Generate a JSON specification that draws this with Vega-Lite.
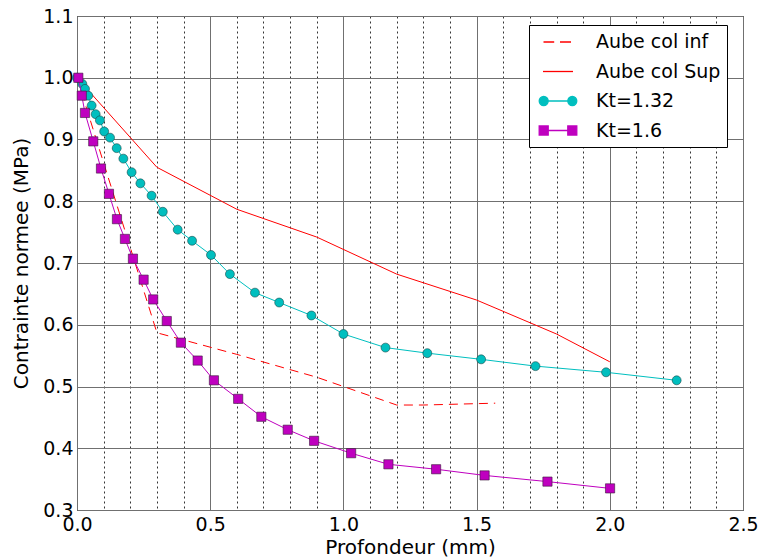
{
  "$schema": "https://vega.github.io/schema/vega-lite/v6.json",
  "width": 666,
  "height": 494,
  "autosize": "none",
  "padding": {"left": 77, "top": 16, "right": 20, "bottom": 50},
  "background": "white",
  "config": {
    "font": "DejaVu Sans",
    "view": {"stroke": "black", "strokeWidth": 1},
    "axis": {
      "domain": false,
      "ticks": false,
      "labelFont": "DejaVu Sans",
      "labelFontSize": 19,
      "labelColor": "black",
      "titleFont": "DejaVu Sans",
      "titleFontSize": 20,
      "titleFontWeight": "normal",
      "titleColor": "black",
      "gridOpacity": 1
    },
    "legend": {
      "orient": "none",
      "legendX": 452,
      "legendY": 9,
      "title": null,
      "padding": 6,
      "symbolOffset": 12,
      "symbolSize": 400,
      "symbolStrokeWidth": 1.3,
      "labelFont": "DejaVu Sans",
      "labelFontSize": 19,
      "labelColor": "black",
      "labelOffset": 27,
      "rowPadding": 8.5,
      "fillColor": "white",
      "strokeColor": "black",
      "cornerRadius": 0
    }
  },
  "data": {
    "values": [
      {"s": "Aube col inf", "x": 0.0, "y": 1.0},
      {"s": "Aube col inf", "x": 0.1, "y": 0.862},
      {"s": "Aube col inf", "x": 0.2, "y": 0.725},
      {"s": "Aube col inf", "x": 0.3, "y": 0.587},
      {"s": "Aube col inf", "x": 0.6, "y": 0.552},
      {"s": "Aube col inf", "x": 0.9, "y": 0.515},
      {"s": "Aube col inf", "x": 1.2, "y": 0.47},
      {"s": "Aube col inf", "x": 1.3, "y": 0.47},
      {"s": "Aube col inf", "x": 1.57, "y": 0.473},
      {"s": "Aube col Sup", "x": 0.0, "y": 1.0},
      {"s": "Aube col Sup", "x": 0.3, "y": 0.855},
      {"s": "Aube col Sup", "x": 0.6, "y": 0.787},
      {"s": "Aube col Sup", "x": 0.9, "y": 0.742},
      {"s": "Aube col Sup", "x": 1.2, "y": 0.682},
      {"s": "Aube col Sup", "x": 1.5, "y": 0.64},
      {"s": "Aube col Sup", "x": 1.8, "y": 0.585},
      {"s": "Aube col Sup", "x": 2.0, "y": 0.54},
      {"s": "Kt=1.32", "x": 0.0, "y": 1.0},
      {"s": "Kt=1.32", "x": 0.02, "y": 0.99},
      {"s": "Kt=1.32", "x": 0.03, "y": 0.982},
      {"s": "Kt=1.32", "x": 0.042, "y": 0.971},
      {"s": "Kt=1.32", "x": 0.055, "y": 0.955},
      {"s": "Kt=1.32", "x": 0.07, "y": 0.941},
      {"s": "Kt=1.32", "x": 0.086, "y": 0.931},
      {"s": "Kt=1.32", "x": 0.102, "y": 0.913},
      {"s": "Kt=1.32", "x": 0.124, "y": 0.903},
      {"s": "Kt=1.32", "x": 0.149, "y": 0.886},
      {"s": "Kt=1.32", "x": 0.174, "y": 0.869},
      {"s": "Kt=1.32", "x": 0.205, "y": 0.847},
      {"s": "Kt=1.32", "x": 0.238, "y": 0.829},
      {"s": "Kt=1.32", "x": 0.28, "y": 0.809},
      {"s": "Kt=1.32", "x": 0.322, "y": 0.783},
      {"s": "Kt=1.32", "x": 0.378, "y": 0.754},
      {"s": "Kt=1.32", "x": 0.432, "y": 0.736},
      {"s": "Kt=1.32", "x": 0.503, "y": 0.713},
      {"s": "Kt=1.32", "x": 0.574, "y": 0.682},
      {"s": "Kt=1.32", "x": 0.668, "y": 0.652},
      {"s": "Kt=1.32", "x": 0.759, "y": 0.636},
      {"s": "Kt=1.32", "x": 0.88, "y": 0.615},
      {"s": "Kt=1.32", "x": 1.0, "y": 0.585},
      {"s": "Kt=1.32", "x": 1.158, "y": 0.563},
      {"s": "Kt=1.32", "x": 1.315, "y": 0.554},
      {"s": "Kt=1.32", "x": 1.517, "y": 0.544},
      {"s": "Kt=1.32", "x": 1.721, "y": 0.533},
      {"s": "Kt=1.32", "x": 1.986, "y": 0.523},
      {"s": "Kt=1.32", "x": 2.251, "y": 0.51},
      {"s": "Kt=1.6", "x": 0.005, "y": 1.0},
      {"s": "Kt=1.6", "x": 0.018, "y": 0.971},
      {"s": "Kt=1.6", "x": 0.03, "y": 0.943},
      {"s": "Kt=1.6", "x": 0.061, "y": 0.897},
      {"s": "Kt=1.6", "x": 0.09, "y": 0.853},
      {"s": "Kt=1.6", "x": 0.12, "y": 0.812},
      {"s": "Kt=1.6", "x": 0.15, "y": 0.771},
      {"s": "Kt=1.6", "x": 0.18, "y": 0.739},
      {"s": "Kt=1.6", "x": 0.21, "y": 0.707},
      {"s": "Kt=1.6", "x": 0.25, "y": 0.673},
      {"s": "Kt=1.6", "x": 0.286, "y": 0.641},
      {"s": "Kt=1.6", "x": 0.337, "y": 0.606},
      {"s": "Kt=1.6", "x": 0.39, "y": 0.571},
      {"s": "Kt=1.6", "x": 0.453, "y": 0.542},
      {"s": "Kt=1.6", "x": 0.514, "y": 0.51},
      {"s": "Kt=1.6", "x": 0.605, "y": 0.48},
      {"s": "Kt=1.6", "x": 0.692, "y": 0.451},
      {"s": "Kt=1.6", "x": 0.791, "y": 0.43},
      {"s": "Kt=1.6", "x": 0.89, "y": 0.412},
      {"s": "Kt=1.6", "x": 1.029, "y": 0.392},
      {"s": "Kt=1.6", "x": 1.169, "y": 0.374},
      {"s": "Kt=1.6", "x": 1.348, "y": 0.366},
      {"s": "Kt=1.6", "x": 1.53, "y": 0.356},
      {"s": "Kt=1.6", "x": 1.766, "y": 0.346},
      {"s": "Kt=1.6", "x": 2.001, "y": 0.335}
    ]
  },
  "encoding": {
    "x": {
      "field": "x",
      "type": "quantitative",
      "scale": {"domain": [0, 2.5], "nice": false, "zero": false},
      "axis": {
        "title": "Profondeur (mm)",
        "values": [0, 0.1, 0.2, 0.3, 0.4, 0.5, 0.6, 0.7, 0.8, 0.9, 1.0, 1.1, 1.2, 1.3, 1.4, 1.5, 1.6, 1.7, 1.8, 1.9, 2.0, 2.1, 2.2, 2.3, 2.4, 2.5],
        "labelExpr": "abs(datum.value*2 - round(datum.value*2)) < 0.001 ? format(datum.value, '.1f') : ''",
        "labelPadding": 5,
        "titlePadding": 3,
        "gridColor": {"condition": {"test": "abs(datum.value*2 - round(datum.value*2)) < 0.001", "value": "#707070"}, "value": "#333333"},
        "gridDash": {"condition": {"test": "abs(datum.value*2 - round(datum.value*2)) < 0.001", "value": []}, "value": [2, 3]},
        "labelFlush": false
      }
    },
    "y": {
      "field": "y",
      "type": "quantitative",
      "scale": {"domain": [0.3, 1.1], "nice": false, "zero": false},
      "axis": {
        "title": "Contrainte normee (MPa)",
        "values": [0.3, 0.4, 0.5, 0.6, 0.7, 0.8, 0.9, 1.0, 1.1],
        "format": ".1f",
        "labelPadding": 4,
        "titlePadding": 11,
        "gridColor": "#707070",
        "labelFlush": false
      }
    }
  },
  "layer": [
    {
      "transform": [{"filter": "datum.s == 'Aube col inf'"}],
      "mark": {"type": "line", "color": "#ff0000", "strokeWidth": 1, "strokeDash": [9, 6]}
    },
    {
      "transform": [{"filter": "datum.s == 'Aube col Sup'"}],
      "mark": {"type": "line", "color": "#ff0000", "strokeWidth": 1}
    },
    {
      "transform": [{"filter": "datum.s == 'Kt=1.32'"}],
      "mark": {"type": "line", "color": "#00bfbf", "strokeWidth": 1}
    },
    {
      "transform": [{"filter": "datum.s == 'Kt=1.32'"}],
      "mark": {"type": "point", "shape": "circle", "filled": true, "fill": "#00bfbf", "stroke": "#1a4a4a", "strokeWidth": 0.6, "size": 80, "opacity": 1}
    },
    {
      "transform": [{"filter": "datum.s == 'Kt=1.6'"}],
      "mark": {"type": "line", "color": "#bf00bf", "strokeWidth": 1}
    },
    {
      "transform": [{"filter": "datum.s == 'Kt=1.6'"}],
      "mark": {"type": "point", "shape": "square", "filled": true, "fill": "#bf00bf", "stroke": "#3a1a3a", "strokeWidth": 0.6, "size": 85, "opacity": 1}
    },
    {
      "transform": [{"filter": "false"}],
      "mark": {"type": "point", "filled": true, "strokeWidth": 1, "opacity": 1},
      "encoding": {
        "fill": {
          "field": "s", "type": "nominal",
          "scale": {"domain": ["Aube col inf", "Aube col Sup", "Kt=1.32", "Kt=1.6"], "range": ["#ff0000", "#ff0000", "#00bfbf", "#bf00bf"]}
        },
        "stroke": {
          "field": "s", "type": "nominal",
          "scale": {"domain": ["Aube col inf", "Aube col Sup", "Kt=1.32", "Kt=1.6"], "range": ["#ff0000", "#ff0000", "#00bfbf", "#bf00bf"]}
        },
        "shape": {
          "field": "s", "type": "nominal",
          "scale": {"domain": ["Aube col inf", "Aube col Sup", "Kt=1.32", "Kt=1.6"], "range": [
            "M-1.45,0L-0.38,0M0.2,0L1.3,0",
            "M-1.5,0L1.5,0",
            "M-1.43,0L1.43,0M-1.88,0A0.45,0.45,0,1,0,-0.98,0A0.45,0.45,0,1,0,-1.88,0ZM0.98,0A0.45,0.45,0,1,0,1.88,0A0.45,0.45,0,1,0,0.98,0Z",
            "M-1.43,0L1.43,0M-1.88,-0.45H-0.98V0.45H-1.88ZM0.98,-0.45H1.88V0.45H0.98Z"
          ]}
        }
      }
    }
  ]
}
